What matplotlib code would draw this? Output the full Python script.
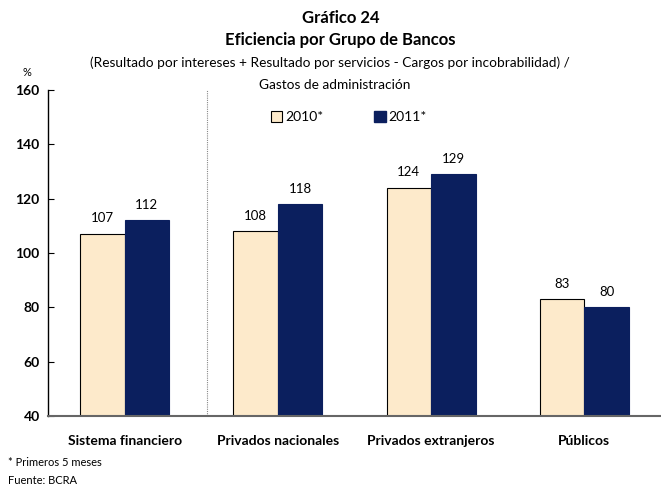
import matplotlib
matplotlib.use("Agg")
import matplotlib.pyplot as plt
import numpy as np
from matplotlib.patches import Patch

categories = ["Sistema financiero", "Privados nacionales", "Privados extranjeros", "Públicos"]
series_names = ["2010*", "2011*"]
values_2010 = [107, 108, 124, 83]
values_2011 = [112, 118, 129, 80]
yticks = [40, 60, 80, 100, 120, 140, 160]

plt.rcParams['font.family'] = ['Lato', 'DejaVu Sans']

fig = plt.figure(figsize=(6.61, 4.87), dpi=100)
ax = fig.add_axes([48/661, 1-416/487, 613/661, (416-90)/487])

x = np.arange(len(categories))
w = 0.29
c2010 = "#FDEACB"
c2011 = "#0B1F5E"
ax.bar(x - w/2, np.array(values_2010) - 40, w, bottom=40, color=c2010, edgecolor="black", linewidth=0.8)
ax.bar(x + w/2, np.array(values_2011) - 40, w, bottom=40, color=c2011, edgecolor=c2011, linewidth=0.8)

for xi, v in zip(x - w/2, values_2010):
    ax.text(xi, v + 3.5, f"{v}", ha="center", va="bottom", fontsize=9.5)
for xi, v in zip(x + w/2, values_2011):
    ax.text(xi, v + 3.5, f"{v}", ha="center", va="bottom", fontsize=9.5)

ax.set_xlim(-0.5, 3.5)
ax.set_ylim(40, 160)
ax.set_yticks(yticks)
ax.set_yticklabels([str(t) for t in yticks], fontweight="bold", fontsize=10)
ax.tick_params(axis="y", direction="in", length=4, width=0.8, pad=6)
ax.set_xticks(x)
ax.set_xticklabels(categories, fontweight="bold", fontsize=10)
ax.tick_params(axis="x", length=0, pad=14)
for s in ["top", "right"]:
    ax.spines[s].set_visible(False)
ax.spines["left"].set_linewidth(1.0)
ax.spines["bottom"].set_color("#666666")
ax.spines["bottom"].set_linewidth(1.5)

ax.axvline(0.535, color="#888888", linestyle=(0, (1, 1)), linewidth=0.8)

handles = [Patch(facecolor=c2010, edgecolor="black", linewidth=0.8),
           Patch(facecolor=c2011, edgecolor=c2011)]
fig.legend(handles, series_names, loc="upper left", bbox_to_anchor=(271/661, 1-111/487), ncol=2,
           frameon=False, fontsize=10, handlelength=0.8, handleheight=0.8, handletextpad=0.2,
           columnspacing=3.7, borderpad=0, borderaxespad=0)

fig.text(341/661, 1-18/487, "Gráfico 24", ha="center", va="center", fontsize=12, fontweight="bold")
fig.text(340/661, 1-40/487, "Eficiencia por Grupo de Bancos", ha="center", va="center", fontsize=12, fontweight="bold")
fig.text(330/661, 1-63/487, "(Resultado por intereses + Resultado por servicios - Cargos por incobrabilidad) /", ha="center", va="center", fontsize=9.8)
fig.text(335/661, 1-85/487, "Gastos de administración", ha="center", va="center", fontsize=9.8)
fig.text(27/661, 1-72/487, "%", ha="center", va="center", fontsize=8)
fig.text(8/661, 1-462/487, "* Primeros 5 meses", ha="left", va="center", fontsize=8)
fig.text(8/661, 1-480/487, "Fuente: BCRA", ha="left", va="center", fontsize=8)

fig.savefig("out.png", dpi=100)
